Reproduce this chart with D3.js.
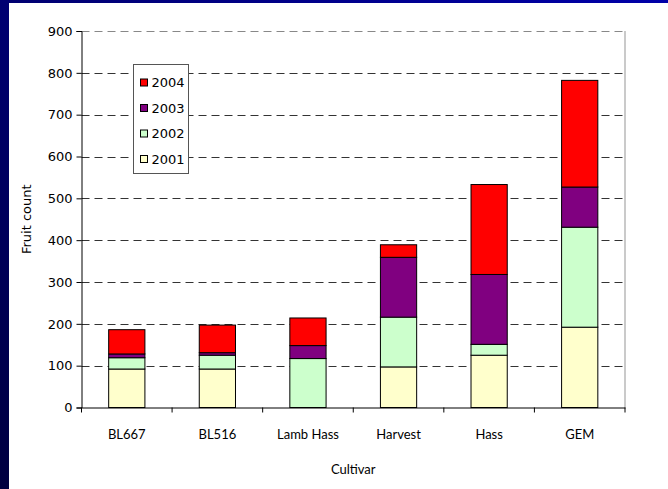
<!DOCTYPE html>
<html>
<head>
<meta charset="utf-8">
<script src="https://cdn.jsdelivr.net/npm/d3@7"></script>
<style>
  html, body { margin: 0; padding: 0; background: #fff; }
  svg { display: block; }
</style>
</head>
<body>
<svg id="chart" width="668" height="489"></svg>
<script>
// Fruit count per cultivar, stacked by harvest year
const cultivars = ["BL667", "BL516", "Lamb Hass", "Harvest", "Hass", "GEM"];
const years = ["2001", "2002", "2003", "2004"];
const y2001 = [92, 92, 0, 97, 125, 192];
const y2002 = [27, 33, 117, 119, 26, 239];
const y2003 = [9, 6, 31, 143, 167, 96];
const y2004 = [58, 66, 66, 30, 215, 255];
const yTicks = [0, 100, 200, 300, 400, 500, 600, 700, 800, 900];
const yearColors = ["#FFFFCC", "#CCFFCC", "#800080", "#FF0000"];

const rows = cultivars.map((c, i) => ({
  cultivar: c, "2001": y2001[i], "2002": y2002[i], "2003": y2003[i], "2004": y2004[i]
}));

const svg = d3.select("#chart");
const W = 668, H = 489;
const plot = { left: 81.5, right: 625, top: 31, bottom: 407.5 };

// Slide frame: dark blue strips on the left and top
const defs = svg.append("defs");
const gl = defs.append("linearGradient").attr("id", "frameLeft")
  .attr("x1", 0).attr("y1", 0).attr("x2", 0).attr("y2", 1);
gl.append("stop").attr("offset", 0).attr("stop-color", "#000072");
gl.append("stop").attr("offset", 1).attr("stop-color", "#000040");
const gt = defs.append("linearGradient").attr("id", "frameTop")
  .attr("x1", 0).attr("y1", 0).attr("x2", 1).attr("y2", 0);
gt.append("stop").attr("offset", 0).attr("stop-color", "#000070");
gt.append("stop").attr("offset", 1).attr("stop-color", "#0000A8");
svg.append("rect").attr("x", 0).attr("y", 0).attr("width", W).attr("height", 3)
  .attr("fill", "url(#frameTop)");
svg.append("rect").attr("x", 0).attr("y", 0).attr("width", 9).attr("height", H)
  .attr("fill", "url(#frameLeft)");

const x = d3.scaleBand().domain(cultivars).range([plot.left, plot.right]).padding(0);
const y = d3.scaleLinear().domain([0, 900]).range([plot.bottom, plot.top]);

// Right border of the plot area
svg.append("line")
  .attr("x1", plot.right).attr("x2", plot.right)
  .attr("y1", plot.top).attr("y2", plot.bottom)
  .attr("stroke", "#b8b8b8").attr("stroke-width", 1.5);

// Dashed gridlines
svg.append("g").selectAll("line")
  .data(yTicks.filter(t => t > 0))
  .join("line")
  .attr("x1", plot.left).attr("x2", plot.right)
  .attr("y1", d => Math.round(y(d)) + 0.5).attr("y2", d => Math.round(y(d)) + 0.5)
  .attr("stroke", d => d === 900 ? "#888" : "#333")
  .attr("stroke-width", 1)
  .attr("stroke-dasharray", "8,5");

// Stacked bars
const stack = d3.stack().keys(years);
const series = stack(rows);
const barW = x.bandwidth() / 2.5;
svg.append("g").selectAll("g")
  .data(series)
  .join("g")
  .attr("fill", (d, i) => yearColors[i])
  .selectAll("rect")
  .data(d => d.filter(s => s[1] - s[0] > 0))
  .join("rect")
  .attr("x", d => x(d.data.cultivar) + (x.bandwidth() - barW) / 2)
  .attr("y", d => y(d[1]))
  .attr("width", barW)
  .attr("height", d => y(d[0]) - y(d[1]))
  .attr("stroke", "#000")
  .attr("stroke-width", 1);

// Axes
const yAxis = d3.axisLeft(y).tickValues(yTicks).tickSize(5).tickPadding(4);
const gy = svg.append("g").attr("transform", `translate(${plot.left},0)`).call(yAxis);
gy.selectAll("text").attr("font-family", "'DejaVu Sans', Verdana, sans-serif")
  .attr("font-size", 13).attr("fill", "#000");
gy.selectAll("line, path").attr("stroke", "#000");

const xAxis = d3.axisBottom(x).tickSize(0).tickPadding(22);
const gx = svg.append("g").attr("transform", `translate(0,${plot.bottom})`).call(xAxis);
gx.select(".domain").attr("stroke", "#000");
gx.selectAll("text").attr("font-family", "'Comic Sans MS', Lato, sans-serif")
  .attr("font-size", 13).attr("fill", "#000");
// Tick marks on the category boundaries
gx.append("g").selectAll("line")
  .data(cultivars.concat(["end"]))
  .join("line")
  .attr("x1", (d, i) => plot.left + i * x.step())
  .attr("x2", (d, i) => plot.left + i * x.step())
  .attr("y1", 0).attr("y2", 5)
  .attr("stroke", "#000");

// Axis titles
svg.append("text")
  .attr("x", (plot.left + plot.right) / 2).attr("y", 474)
  .attr("text-anchor", "middle")
  .attr("font-family", "'Comic Sans MS', Lato, sans-serif")
  .attr("font-size", 13)
  .text("Cultivar");
svg.append("text")
  .attr("transform", `translate(31,${(plot.top + plot.bottom) / 2}) rotate(-90)`)
  .attr("text-anchor", "middle")
  .attr("font-family", "'DejaVu Sans', Verdana, sans-serif")
  .attr("font-size", 13)
  .text("Fruit count");

// Legend, newest year on top
const legend = svg.append("g").attr("transform", "translate(133.5,64.5)");
legend.append("rect").attr("width", 55).attr("height", 109)
  .attr("fill", "#fff").attr("stroke", "#555").attr("stroke-width", 1);
const legendYears = years.slice().reverse();
const item = legend.selectAll("g.item")
  .data(legendYears)
  .join("g")
  .attr("class", "item")
  .attr("transform", (d, i) => `translate(7,${18 + i * 25.5})`);
item.append("rect")
  .attr("x", 0).attr("y", -3.5).attr("width", 7).attr("height", 7)
  .attr("fill", d => yearColors[years.indexOf(d)])
  .attr("stroke", "#000").attr("stroke-width", 1);
item.append("text")
  .attr("x", 11).attr("y", 0).attr("dy", "0.36em")
  .attr("font-family", "'DejaVu Sans', Verdana, sans-serif")
  .attr("font-size", 13)
  .text(d => d);
</script>
</body>
</html>
